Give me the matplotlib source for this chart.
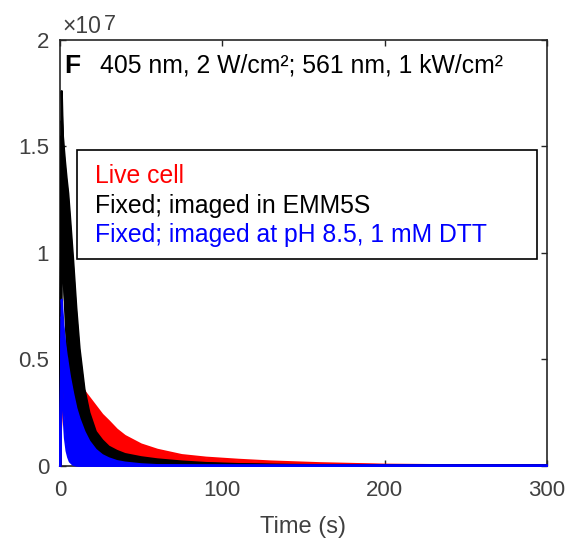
"""Fluorescence decay traces under 405/561 nm illumination (panel F)."""

import matplotlib

matplotlib.use("Agg")
import matplotlib.pyplot as plt
from matplotlib.patches import Rectangle
import numpy as np

plt.rcParams["font.family"] = ["Liberation Sans", "DejaVu Sans"]

# time axis (s) and intensity traces in units of 1e7
time_s = [0, 1, 2, 3, 4, 5, 6, 8, 10, 12, 15, 18, 22, 26, 30, 35, 40, 50, 60,
          75, 90, 110, 130, 160, 200, 250, 300]

live_cell = [
    [0, 0.42, 0.42, 0.41, 0.41, 0.40, 0.40, 0.39, 0.38, 0.37, 0.35, 0.32, 0.28, 0.24,
     0.21, 0.17, 0.14, 0.10, 0.075, 0.05, 0.038, 0.028, 0.02, 0.012, 0.005, 0.002, 0.001],
    [0, 0.40, 0.39, 0.38, 0.37, 0.36, 0.35, 0.33, 0.31, 0.29, 0.26, 0.23, 0.19, 0.16,
     0.14, 0.11, 0.09, 0.065, 0.048, 0.032, 0.022, 0.015, 0.01, 0.006, 0.003, 0.001, 0],
    [0, 0.38, 0.36, 0.35, 0.33, 0.32, 0.30, 0.27, 0.25, 0.22, 0.19, 0.16, 0.13, 0.105,
     0.085, 0.068, 0.055, 0.038, 0.028, 0.018, 0.012, 0.008, 0.005, 0.003, 0.0015, 0.0005, 0],
    [0, 0.36, 0.34, 0.32, 0.30, 0.28, 0.26, 0.23, 0.20, 0.17, 0.14, 0.115, 0.09, 0.072,
     0.058, 0.045, 0.036, 0.025, 0.018, 0.012, 0.008, 0.005, 0.003, 0.002, 0.001, 0.0004, 0],
    [0, 0.34, 0.31, 0.28, 0.26, 0.24, 0.22, 0.18, 0.15, 0.125, 0.10, 0.08, 0.06, 0.048,
     0.038, 0.03, 0.024, 0.016, 0.011, 0.007, 0.005, 0.003, 0.002, 0.001, 0.0005, 0.0002, 0],
]

fixed_emm5s = [
    [0, 1.76, 1.45, 1.18, 0.96, 0.80, 0.66, 0.46, 0.32, 0.23, 0.15, 0.10, 0.07, 0.05,
     0.04, 0.03, 0.025, 0.017, 0.012, 0.008, 0.005, 0.003, 0.002, 0.001, 0.0005, 0.0002, 0],
    [0, 1.55, 1.34, 1.15, 0.99, 0.86, 0.74, 0.55, 0.41, 0.31, 0.20, 0.14, 0.09, 0.065,
     0.05, 0.038, 0.03, 0.02, 0.014, 0.009, 0.006, 0.004, 0.002, 0.001, 0.0005, 0.0002, 0],
    [0, 1.35, 1.20, 1.07, 0.95, 0.85, 0.76, 0.60, 0.48, 0.38, 0.27, 0.19, 0.13, 0.09,
     0.07, 0.05, 0.04, 0.028, 0.02, 0.013, 0.009, 0.005, 0.003, 0.0015, 0.0007, 0.0002, 0],
    [0, 1.62, 1.52, 1.43, 1.35, 1.28, 1.18, 0.97, 0.74, 0.55, 0.36, 0.25, 0.16, 0.12,
     0.09, 0.07, 0.055, 0.04, 0.03, 0.02, 0.013, 0.008, 0.005, 0.003, 0.0015, 0.0005, 0],
    [0, 1.00, 0.88, 0.78, 0.69, 0.61, 0.54, 0.42, 0.33, 0.26, 0.18, 0.13, 0.09, 0.07,
     0.055, 0.045, 0.037, 0.027, 0.02, 0.014, 0.01, 0.006, 0.004, 0.002, 0.001, 0.0004, 0],
    [0, 1.20, 0.95, 0.75, 0.59, 0.46, 0.36, 0.22, 0.14, 0.09, 0.05, 0.035, 0.025, 0.02,
     0.016, 0.012, 0.01, 0.007, 0.005, 0.003, 0.002, 0.001, 0.0005, 0, 0, 0, 0],
]

fixed_ph85 = [
    [0, 0.78, 0.66, 0.56, 0.47, 0.40, 0.34, 0.24, 0.17, 0.12, 0.075, 0.048, 0.028, 0.017,
     0.011, 0.006, 0.004, 0.002, 0.001, 0.0005, 0, 0, 0, 0, 0, 0, 0],
    [0, 0.70, 0.64, 0.58, 0.52, 0.47, 0.42, 0.34, 0.27, 0.22, 0.16, 0.115, 0.075, 0.05,
     0.035, 0.022, 0.015, 0.007, 0.003, 0.001, 0.0005, 0, 0, 0, 0, 0, 0],
    [0, 0.60, 0.45, 0.33, 0.25, 0.19, 0.14, 0.08, 0.045, 0.026, 0.012, 0.006, 0.003, 0.001,
     0.0005, 0, 0, 0, 0, 0, 0, 0, 0, 0, 0, 0, 0],
    [0, 0.50, 0.42, 0.35, 0.29, 0.24, 0.20, 0.14, 0.10, 0.07, 0.043, 0.026, 0.014, 0.008,
     0.005, 0.003, 0.002, 0.001, 0, 0, 0, 0, 0, 0, 0, 0, 0],
    [0, 0.45, 0.25, 0.13, 0.07, 0.04, 0.02, 0.005, 0.001, 0, 0, 0, 0, 0,
     0, 0, 0, 0, 0, 0, 0, 0, 0, 0, 0, 0, 0],
]

group_labels = ["Live cell", "Fixed; imaged in EMM5S", "Fixed; imaged at pH 8.5, 1 mM DTT"]
group_colors = ["#ff0000", "#000000", "#0000ff"]
x_ticks = [0, 100, 200, 300]
y_ticks = [0, 0.5, 1, 1.5, 2]
y_ticklabels = ["0", "0.5", "1", "1.5", "2"]

AX_COL = "#262626"
TICK_COL = "#404040"

fig = plt.figure(figsize=(5.78, 5.41), dpi=100)
ax = fig.add_axes([0.104, 0.139, 0.842, 0.787])

t = np.asarray(time_s, dtype=float)
groups = [live_cell, fixed_emm5s, fixed_ph85]
for i, (traces, color) in enumerate(zip(groups, group_colors)):
    arr = np.asarray(traces, dtype=float)
    z = 2 + i
    ax.fill_between(t, arr.min(axis=0), arr.max(axis=0), color=color, lw=0, zorder=z)
    for tr in arr:
        ax.plot(t, tr, color=color, lw=1.6, clip_on=False, zorder=z)

ax.set_xlim(0, 300)
ax.set_ylim(0, 2)
ax.set_xticks(x_ticks)
ax.set_yticks(y_ticks)
ax.set_yticklabels(y_ticklabels)
ax.tick_params(direction="in", length=4, width=1, colors=AX_COL, labelcolor=TICK_COL,
               labelsize=16, top=True, right=True)
ax.tick_params(axis="x", pad=10)
ax.tick_params(axis="y", pad=8)
for sp in ax.spines.values():
    sp.set_color(AX_COL)
    sp.set_linewidth(1.2)
    sp.set_zorder(1.5)
ax.set_xlabel("Time (s)", fontsize=17, color=TICK_COL, labelpad=11)

# exponent label, MATLAB style
fig.text(62 / 578, 1 - 33 / 541, "×10", fontsize=16.5, color=TICK_COL,
         ha="left", va="baseline")
fig.text(104 / 578, 1 - 30 / 541, "7", fontsize=15.5, color=TICK_COL,
         ha="left", va="baseline")

ax.text(0.008, 0.923, "F", transform=ax.transAxes, fontsize=19, fontweight="bold",
        ha="left", va="baseline", zorder=7)
ax.text(0.082, 0.923, "405 nm, 2 W/cm²; 561 nm, 1 kW/cm²", transform=ax.transAxes,
        fontsize=17.8, ha="left", va="baseline", zorder=7)

ax.add_patch(Rectangle((0.035, 0.486), 0.945, 0.256, transform=ax.transAxes,
                       facecolor="white", edgecolor="black", lw=1.2, zorder=8))
for label, color, yb in zip(group_labels, group_colors, [0.664, 0.594, 0.526]):
    ax.text(0.072, yb, label, transform=ax.transAxes, fontsize=17.8, color=color,
            ha="left", va="baseline", zorder=9)

fig.savefig("out.png", dpi=100)
plt.close(fig)
